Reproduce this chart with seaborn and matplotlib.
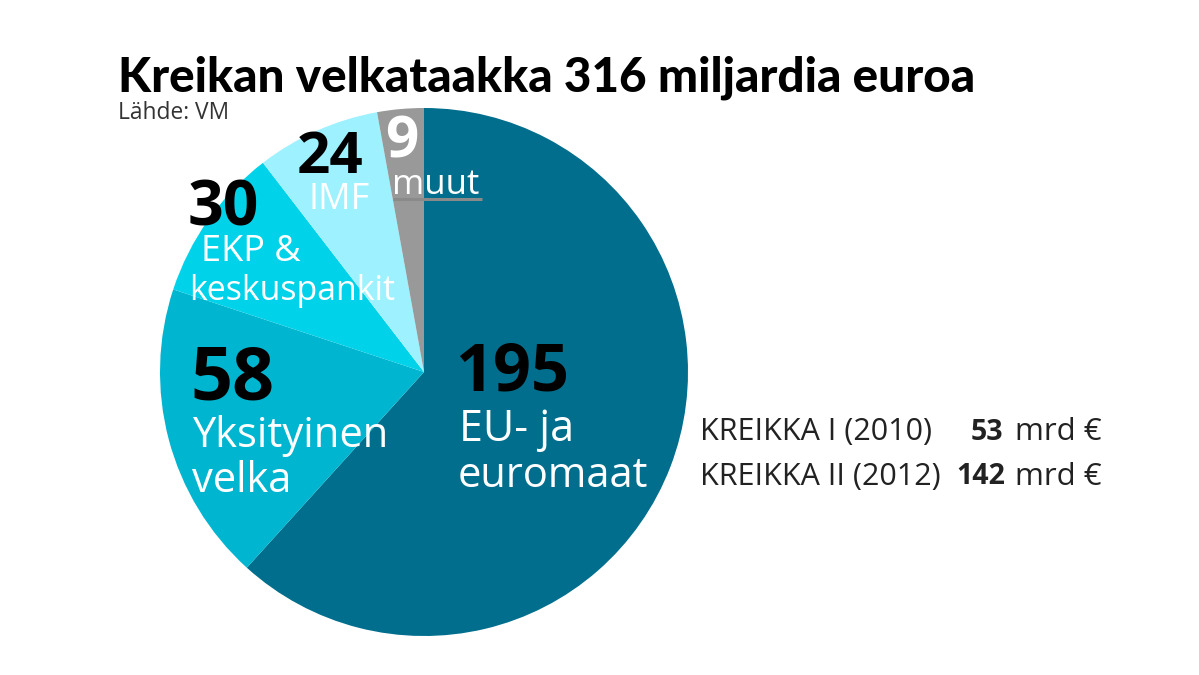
import matplotlib
matplotlib.use("Agg")
import matplotlib.pyplot as plt
import seaborn as sns

sns.set_theme(style="white")
plt.rcParams['font.family'] = ['Open Sans', 'DejaVu Sans']

# values in mrd euro, clockwise from 12 o'clock
names = ['EU- ja euromaat', 'Yksityinen velka', 'EKP & keskuspankit', 'IMF', 'muut']
values = [195, 58, 30, 24, 9]
colors = ['#006e8c', '#00b5cf', '#00d3e9', '#9ef1ff', '#999999']

W, H = 1199, 675
fig = plt.figure(figsize=(W / 100, H / 100), dpi=100, facecolor='white')

cx, cy, r = 424, 372, 264
ax = fig.add_axes([(cx - r) / W, 1 - (cy + r) / H, 2 * r / W, 2 * r / H])
ax.pie(values, colors=colors, startangle=90, counterclock=False, radius=1,
       wedgeprops={'linewidth': 0, 'edgecolor': 'none'})
ax.set_xlim(-1, 1)
ax.set_ylim(-1, 1)
ax.set_aspect('equal')

# overlay in px coords for the labels
txt = fig.add_axes([0, 0, 1, 1])
txt.set_xlim(0, W)
txt.set_ylim(H, 0)
txt.axis('off')
txt.patch.set_alpha(0)

def t(x, y, s, size, color='black', weight='normal', ha='left', family=None):
    txt.text(x, y, s, fontsize=size, color=color, fontweight=weight, ha=ha, va='center',
             family=family if family else ['Open Sans', 'DejaVu Sans'])

t(118, 78, 'Kreikan velkataakka 316 miljardia euroa', 34.3, weight='black', family=['Lato', 'DejaVu Sans'])
t(118, 113, 'Lähde: VM', 16.4, color='#333333')

t(190, 381, '58', 53, weight='bold')
t(192, 436, 'Yksityinen', 30, color='white')
t(192, 481, 'velka', 30, color='white')

t(455, 373, '195', 48, weight='bold')
t(459, 430, 'EU- ja', 31, color='white')
t(458, 476, 'euromaat', 30, color='white')

t(188, 209, '30', 45, weight='bold')
t(201, 252, 'EKP &', 26, color='white')
t(189, 291, 'keskuspankit', 24.4, color='white')

t(297, 158, '24', 42, weight='bold')
t(308, 200, 'IMF', 26, color='white')

t(385, 143, '9', 42, color='white', weight='bold')
t(392, 185, 'muut', 25, color='white')
txt.plot([393, 482], [199, 199], color='#8a8a8a', lw=2.2, solid_capstyle='butt')

t(700, 432, 'KREIKKA I (2010)', 22, color='#222222')
t(700, 477, 'KREIKKA II (2012)', 22, color='#222222')
t(971, 432, '53', 20.5, weight='bold', color='#222222')
t(1015, 432, 'mrd €', 22.5, color='#222222')
t(956, 477, '142', 20.5, weight='bold', color='#222222')
t(1015, 477, 'mrd €', 22.5, color='#222222')

fig.savefig('out.png', dpi=100, facecolor='white')
